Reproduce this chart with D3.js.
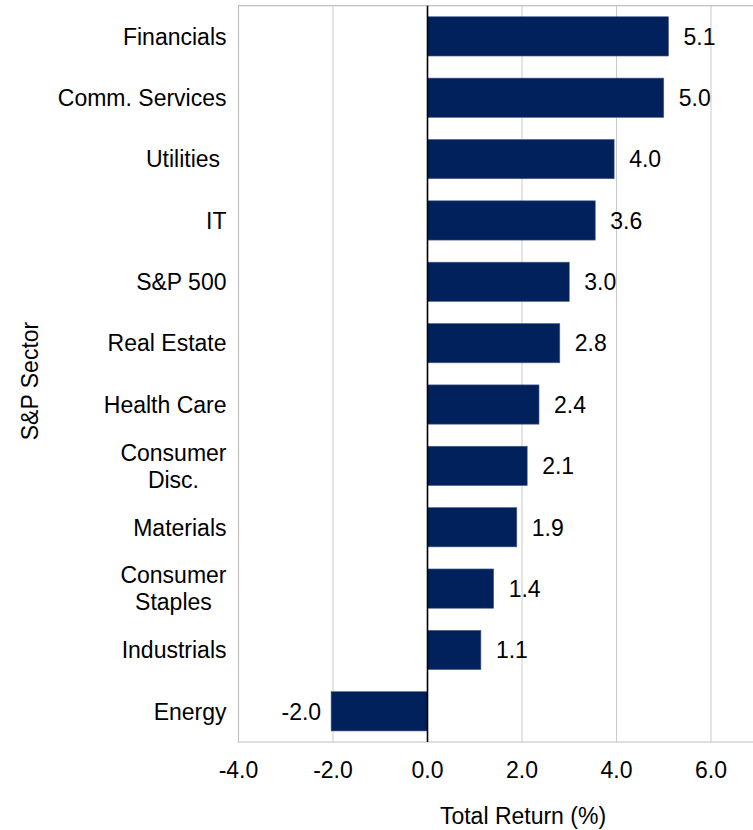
<!doctype html>
<html lang='en'>
  <head>
    <meta charset="utf-8">
    <script src="https://d3js.org/d3.v7.min.js"></script>
    <title>S&amp;P Sector Total Return</title>
  <style>
  body {
    margin: 0;
    background-color: white;
  }

  svg {
    display: block;
    font-family: "Liberation Sans", Arial, sans-serif;
  }

  .grid line {
    stroke: #c9c9c9;
    stroke-width: 1;
  }

  .bar {
    fill: #00215b;
    stroke: #4f5f8f;
    stroke-width: 0.6;
  }

  .lbl {
    font-size: 23px;
    fill: #000;
  }
  </style>
  </head>

  <body>
    <div id='chart'></div>
    <script>
    // data, top to bottom as shown
    const sectors = ['Financials', 'Comm. Services', 'Utilities ', 'IT', 'S&P 500', 'Real Estate',
                     'Health Care', 'Consumer\nDisc.', 'Materials', 'Consumer\nStaples', 'Industrials', 'Energy'];
    const returns = [5.1, 5.0, 3.95, 3.55, 3.0, 2.8, 2.36, 2.11, 1.89, 1.4, 1.13, -2.04];
    const valueLabels = ['5.1', '5.0', '4.0', '3.6', '3.0', '2.8', '2.4', '2.1', '1.9', '1.4', '1.1', '-2.0'];
    const xTicks = [-4, -2, 0, 2, 4, 6];

    const wsvg = 753;
    const hsvg = 830;
    const plotTop = 5.7;
    const plotBottom = 742;
    const plotLeft = 238.5;

    const svg = d3.select('#chart')
                  .append('svg')
                  .attr('width', wsvg)
                  .attr('height', hsvg);

    const xScale = d3.scaleLinear()
                     .domain([-4, 7])
                     .range([plotLeft, plotLeft + 11 * 47.25]);

    const yScale = d3.scaleBand()
                     .domain(sectors)
                     .range([plotTop, plotBottom])
                     .paddingInner(0.36)
                     .paddingOuter(0.18);

    // gridlines
    svg.append('g')
       .attr('class', 'grid')
       .selectAll('line')
       .data(xTicks.filter(d => d !== 0))
       .enter()
       .append('line')
       .attr('x1', d => xScale(d))
       .attr('x2', d => xScale(d))
       .attr('y1', plotTop)
       .attr('y2', plotBottom);

    // plot border (top, left, bottom)
    svg.append('path')
       .attr('d', 'M' + wsvg + ',' + plotTop + 'H' + plotLeft + 'V' + plotBottom + 'H' + wsvg)
       .attr('fill', 'none')
       .attr('stroke', '#bfbfbf')
       .attr('stroke-width', 1.2);

    const rows = sectors.map((s, i) => ({name: s, value: returns[i], label: valueLabels[i]}));

    svg.selectAll('.bar')
       .data(rows)
       .enter()
       .append('rect')
       .attr('class', 'bar')
       .attr('x', d => xScale(Math.min(0, d.value)))
       .attr('width', d => Math.abs(xScale(d.value) - xScale(0)))
       .attr('y', d => yScale(d.name))
       .attr('height', yScale.bandwidth());

    // zero line
    svg.append('line')
       .attr('x1', xScale(0))
       .attr('x2', xScale(0))
       .attr('y1', plotTop)
       .attr('y2', plotBottom)
       .attr('stroke', '#000')
       .attr('stroke-width', 1.6);

    // value labels
    svg.selectAll('.val')
       .data(rows)
       .enter()
       .append('text')
       .attr('class', 'lbl val')
       .attr('x', d => d.value >= 0 ? xScale(d.value) + 15 : xScale(d.value) - 10)
       .attr('y', d => yScale(d.name) + yScale.bandwidth() / 2)
       .attr('dy', '0.36em')
       .attr('text-anchor', d => d.value >= 0 ? 'start' : 'end')
       .text(d => d.label);

    // category labels (multi-line centred within block, block right-aligned)
    const catG = svg.append('g');
    rows.forEach(d => {
      const lines = d.name.split('\n');
      const cy = yScale(d.name) + yScale.bandwidth() / 2;
      const lh = 27;
      const t = catG.append('text')
                    .attr('class', 'lbl')
                    .style('white-space', 'pre');
      lines.forEach((l, j) => {
        t.append('tspan')
         .attr('y', cy + (j - (lines.length - 1) / 2) * lh)
         .attr('dy', '0.36em')
         .text(l);
      });
      const widths = [];
      t.selectAll('tspan').each(function() { widths.push(this.getComputedTextLength()); });
      const maxW = d3.max(widths);
      t.attr('text-anchor', 'middle')
       .selectAll('tspan')
       .attr('x', plotLeft - 12 - maxW / 2);
    });

    // x axis tick labels
    svg.selectAll('.tick-lbl')
       .data(xTicks)
       .enter()
       .append('text')
       .attr('class', 'lbl tick-lbl')
       .attr('x', d => xScale(d))
       .attr('y', 770)
       .attr('dy', '0.36em')
       .attr('text-anchor', 'middle')
       .text(d => d.toFixed(1));

    // axis titles
    svg.append('text')
       .attr('class', 'lbl')
       .attr('x', 523)
       .attr('y', 816)
       .attr('dy', '0.36em')
       .attr('text-anchor', 'middle')
       .text('Total Return (%)');

    svg.append('text')
       .attr('class', 'lbl')
       .attr('transform', 'translate(30,381) rotate(-90)')
       .attr('dy', '0.36em')
       .attr('text-anchor', 'middle')
       .text('S&P Sector');
    </script>
  </body>
</html>
